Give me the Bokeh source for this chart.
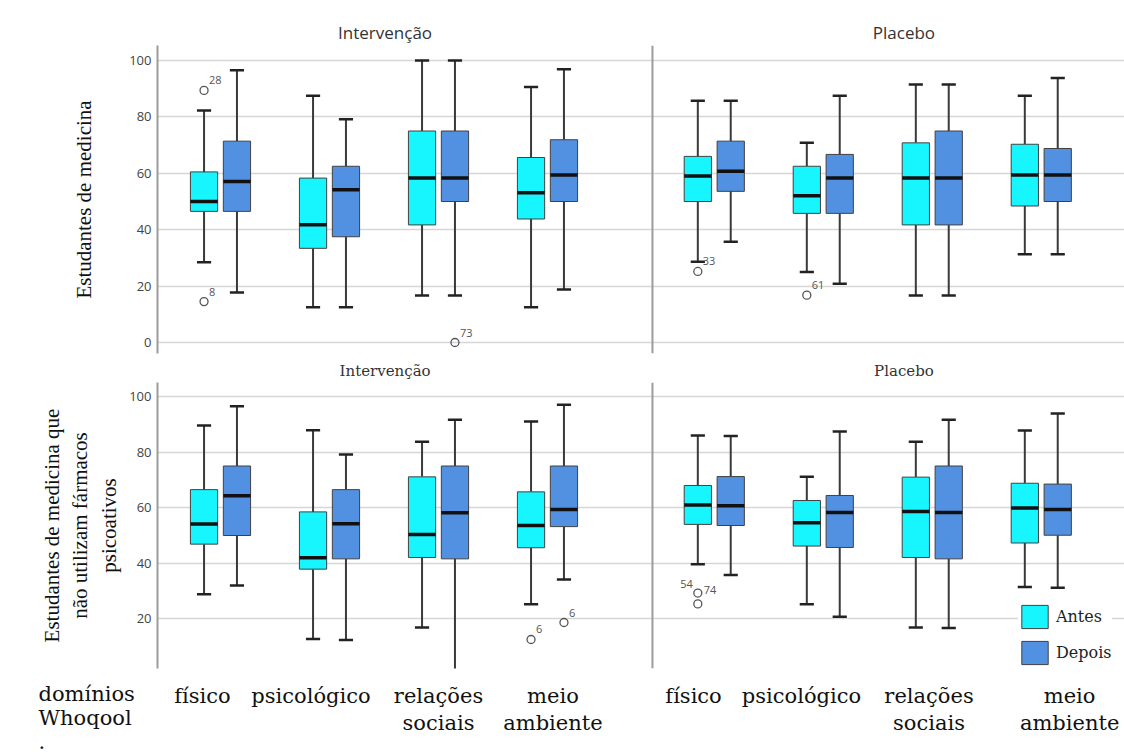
from bokeh.plotting import figure
from bokeh.layouts import column
from bokeh.models import (ColumnDataSource, FixedTicker, LinearAxis, Range1d, Span,
                          Legend, LegendItem)
from bokeh.core.properties import value
from bokeh.embed import file_html
from bokeh.resources import INLINE

# ---------------- data ----------------
DOMAINS = ["físico", "psicológico", "relações\nsociais", "meio\nambiente"]
PANELS = ["Intervenção", "Placebo"]
SERIES = ["Antes", "Depois"]
Y_TITLE_TOP = "Estudantes de medicina"
Y_TITLE_BOTTOM = "Estudantes de medicina que\nnão utilizam fármacos\npsicoativos"
X_TITLE = "domínios\nWhoqool\n."

# five-number summaries per domain: [whisker low, Q1, median, Q3, whisker high]
top_int_antes = [[28.5, 46.5, 50.0, 60.5, 82.3], [12.5, 33.4, 41.8, 58.3, 87.5],
                 [16.7, 41.7, 58.3, 75.0, 100.0], [12.5, 43.8, 53.1, 65.6, 90.6]]
top_int_depois = [[17.7, 46.5, 57.1, 71.4, 96.5], [12.5, 37.5, 54.2, 62.5, 79.2],
                  [16.7, 50.0, 58.3, 75.0, 100.0], [18.8, 50.0, 59.4, 71.9, 96.9]]
top_pla_antes = [[28.6, 50.0, 59.0, 66.0, 85.7], [25.0, 45.8, 52.0, 62.5, 70.8],
                 [16.7, 41.7, 58.3, 70.8, 91.5], [31.3, 48.4, 59.4, 70.3, 87.5]]
top_pla_depois = [[35.7, 53.6, 60.7, 71.4, 85.7], [20.8, 45.8, 58.3, 66.7, 87.5],
                  [16.7, 41.7, 58.3, 75.0, 91.5], [31.3, 50.0, 59.4, 68.8, 93.8]]

bot_int_antes = [[28.9, 46.9, 54.1, 66.5, 89.6], [12.8, 37.9, 42.0, 58.5, 87.9],
                 [16.9, 42.1, 50.4, 71.1, 83.7], [25.3, 45.6, 53.6, 65.7, 91.0]]
bot_int_depois = [[32.0, 50.0, 64.3, 75.0, 96.5], [12.4, 41.6, 54.2, 66.5, 79.1],
                  [0.0, 41.6, 58.2, 75.0, 91.6], [34.2, 53.2, 59.4, 75.0, 97.0]]
bot_pla_antes = [[39.7, 54.0, 61.0, 68.0, 86.0], [25.3, 46.2, 54.6, 62.6, 71.1],
                 [16.9, 42.1, 58.6, 71.0, 83.7], [31.5, 47.3, 59.9, 68.8, 87.8]]
bot_pla_depois = [[35.8, 53.6, 60.7, 71.2, 85.8], [20.8, 45.7, 58.3, 64.4, 87.4],
                  [16.7, 41.6, 58.3, 75.0, 91.6], [31.2, 50.1, 59.4, 68.5, 93.9]]

# outliers: panel index, domain index, series index, value, case label
top_out_panel = [0, 0, 0, 1, 1]
top_out_domain = [0, 0, 2, 0, 1]
top_out_series = [0, 0, 1, 0, 0]
top_out_value = [89.4, 14.5, 0.0, 25.2, 16.8]
top_out_label = ["28", "8", "73", "33", "61"]

bot_out_panel = [0, 0, 1, 1]
bot_out_domain = [3, 3, 0, 0]
bot_out_series = [0, 1, 0, 0]
bot_out_value = [12.6, 18.7, 29.3, 25.4]
bot_out_label = ["6", "6", "74", "54"]

# ---------------- layout / style ----------------
W = 1124
LEFT = 157
PX = 109.0                      # pixels per domain step
PANEL_SHIFT = [0.0, 4.53]
SERIES_SHIFT = [-0.151, 0.151]
BOX_W = 0.25
CAP_W = 0.13
X_START = -0.578
X_END = X_START + (W - LEFT) / PX
DIVIDER = 3.963
TITLE_POS = [1.51, 6.27]
LABEL_NUDGE = [[-0.165, -0.17, 0.0, 0.05], [-0.19, -0.2, -0.03, 0.26]]
COLORS = ["#17F6FF", "#5291E1"]
LABEL_PLACE = {"54": (-5, -20, "right"), "74": (6, -3, "left")}
DEFAULT_PLACE = (5, -10, "left")


def draw_row(p, stats, out_panel, out_domain, out_series, out_value, out_label):
    box_renderers = [None, None]
    for pi in range(2):
        for si in range(2):
            rows = stats[pi][si]
            xs = [PANEL_SHIFT[pi] + d + SERIES_SHIFT[si] for d in range(len(rows))]
            src = ColumnDataSource(dict(
                x=xs,
                lo=[r[0] for r in rows], q1=[r[1] for r in rows], med=[r[2] for r in rows],
                q3=[r[3] for r in rows], hi=[r[4] for r in rows],
                xl=[x - BOX_W / 2 for x in xs], xr=[x + BOX_W / 2 for x in xs],
                cl=[x - CAP_W / 2 for x in xs], cr=[x + CAP_W / 2 for x in xs],
            ))
            p.segment(x0="x", y0="q3", x1="x", y1="hi", source=src, line_color="#3a3a3a", line_width=2)
            p.segment(x0="x", y0="q1", x1="x", y1="lo", source=src, line_color="#3a3a3a", line_width=2)
            p.segment(x0="cl", y0="hi", x1="cr", y1="hi", source=src, line_color="#222222", line_width=2.5)
            p.segment(x0="cl", y0="lo", x1="cr", y1="lo", source=src, line_color="#222222", line_width=2.5)
            r = p.vbar(x="x", width=BOX_W, bottom="q1", top="q3", source=src,
                       fill_color=COLORS[si], line_color="#404040", line_width=1)
            if box_renderers[si] is None:
                box_renderers[si] = r
            p.segment(x0="xl", y0="med", x1="xr", y1="med", source=src, line_color="#111111", line_width=3.5)

    ox = [PANEL_SHIFT[pp] + d + SERIES_SHIFT[s] for pp, d, s in zip(out_panel, out_domain, out_series)]
    p.scatter(x=ox, y=out_value, marker="circle", size=8, fill_color=None,
              line_color="#555555", line_width=1.3)
    for align in ("left", "right"):
        sel = [i for i, lab in enumerate(out_label) if LABEL_PLACE.get(lab, DEFAULT_PLACE)[2] == align]
        if not sel:
            continue
        src = ColumnDataSource(dict(
            x=[ox[i] for i in sel], y=[out_value[i] for i in sel], t=[out_label[i] for i in sel],
            dx=[LABEL_PLACE.get(out_label[i], DEFAULT_PLACE)[0] for i in sel],
            dy=[LABEL_PLACE.get(out_label[i], DEFAULT_PLACE)[1] for i in sel],
        ))
        p.text(x="x", y="y", text="t", x_offset="dx", y_offset="dy", source=src,
               text_font=value("Open Sans"), text_font_size="11px", text_color="#555555",
               text_align=align, text_baseline="middle")
    return box_renderers


def base_fig(height, y0, y1, yticks, ylabel, border_top, border_bottom, standoff):
    p = figure(width=W, height=height, x_range=Range1d(X_START, X_END),
               y_range=Range1d(y0, y1), output_backend="svg", toolbar_location=None,
               x_axis_location=None, min_border_left=LEFT, min_border_right=0,
               min_border_top=border_top, min_border_bottom=border_bottom)
    p.outline_line_color = None
    p.xgrid.visible = False
    p.ygrid.ticker = FixedTicker(ticks=yticks)
    p.ygrid.grid_line_color = "#d6d6d6"
    p.ygrid.grid_line_width = 1.6
    ax = p.yaxis[0]
    ax.ticker = FixedTicker(ticks=yticks)
    ax.axis_line_color = "#9c9c9c"
    ax.axis_line_width = 2
    ax.major_tick_out = 0
    ax.major_tick_in = 0
    ax.minor_tick_line_color = None
    ax.major_label_text_font = "Open Sans"
    ax.major_label_text_font_size = "13px"
    ax.major_label_text_color = "#444444"
    ax.major_label_standoff = 6
    ax.axis_label = ylabel
    ax.axis_label_text_font = "Liberation Serif"
    ax.axis_label_text_font_size = "21px"
    ax.axis_label_text_font_style = "normal"
    ax.axis_label_text_color = "#111111"
    ax.axis_label_standoff = standoff
    p.add_layout(Span(location=DIVIDER, dimension="height", line_color="#9c9c9c", line_width=2))
    return p


def add_titles(p, font, size, standoff):
    tpos = [round(t, 3) for t in TITLE_POS]
    t_ax = LinearAxis(ticker=FixedTicker(ticks=tpos),
                      major_label_overrides={tpos[i]: PANELS[i] for i in range(2)})
    t_ax.axis_line_color = None
    t_ax.major_tick_line_color = None
    t_ax.minor_tick_line_color = None
    t_ax.major_label_standoff = standoff
    t_ax.major_label_text_font = font
    t_ax.major_label_text_font_size = size
    t_ax.major_label_text_color = "#333333"
    p.add_layout(t_ax, "above")


# ---------------- top row ----------------
top = base_fig(355, -3.9, 105.32, [0, 20, 40, 60, 80, 100], Y_TITLE_TOP, 45, 2, 30)
add_titles(top, "Open Sans", "17px", -4)
draw_row(top, [[top_int_antes, top_int_depois], [top_pla_antes, top_pla_depois]],
         top_out_panel, top_out_domain, top_out_series, top_out_value, top_out_label)

# ---------------- bottom row ----------------
bot = base_fig(315, 2.16, 105.04, [20, 40, 60, 80, 100], Y_TITLE_BOTTOM, 27, 2, 5)
add_titles(bot, "DejaVu Serif", "15px", -3)
boxes = draw_row(bot, [[bot_int_antes, bot_int_depois], [bot_pla_antes, bot_pla_depois]],
                 bot_out_panel, bot_out_domain, bot_out_series, bot_out_value, bot_out_label)

legend = Legend(items=[LegendItem(label=SERIES[i], renderers=[boxes[i]]) for i in range(2)],
                location=(861, 1), margin=0, padding=4, spacing=7,
                glyph_width=33, glyph_height=29, label_standoff=5,
                label_text_font="DejaVu Serif", label_text_font_size="16px",
                label_text_color="#222222", border_line_color=None,
                background_fill_color="white", background_fill_alpha=1.0)
bot.add_layout(legend)

# ---------------- category label strip ----------------
strip = figure(width=W, height=86, x_range=Range1d(X_START - LEFT / PX, X_END),
               y_range=Range1d(0, 1), output_backend="svg", toolbar_location=None,
               x_axis_location=None, y_axis_location=None, frame_align=False,
               min_border_left=0, min_border_right=0, min_border_top=0, min_border_bottom=0)
strip.outline_line_color = None
strip.grid.visible = False
lx, lt = [], []
for pi in range(2):
    for d, name in enumerate(DOMAINS):
        lx.append(PANEL_SHIFT[pi] + d + LABEL_NUDGE[pi][d])
        lt.append(name)
strip.text(x=lx, y=[1] * len(lx), text=lt, y_offset=13, text_align="center",
           text_baseline="top", text_font=value("DejaVu Serif"), text_font_size="21px",
           text_color="#111111", text_line_height=1.15)
strip.text(x=[X_START - LEFT / PX + 38 / PX], y=[1], text=[X_TITLE], y_offset=11,
           text_align="left", text_baseline="top", text_font=value("DejaVu Serif"),
           text_font_size="21px", text_color="#111111", text_line_height=1.02)

layout = column(top, bot, strip, spacing=0)
open("out.html", "w").write(file_html(layout, INLINE))
